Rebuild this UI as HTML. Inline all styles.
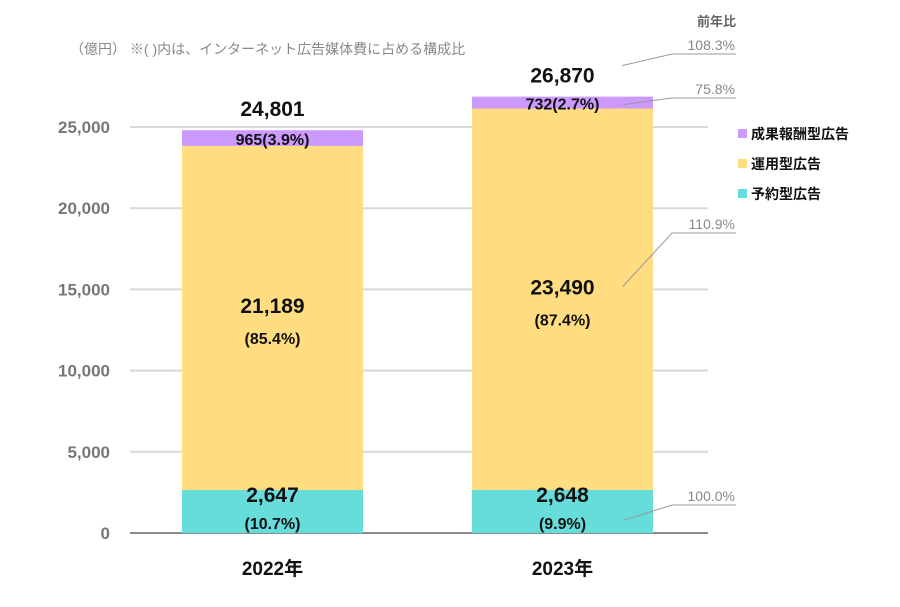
<!DOCTYPE html>
<html><head><meta charset="utf-8"><style>
body{margin:0;background:#fff;}
svg text{font-family:"Liberation Sans","Noto Sans CJK JP",sans-serif;}
</style></head><body>
<svg id="c" width="900" height="602" viewBox="0 0 900 602" xmlns="http://www.w3.org/2000/svg">
<text x="70" y="54" font-size="14" fill="#888">（億円）  ※(   )内は、インターネット広告媒体費に占める構成比</text>
<text x="736" y="26" font-size="13" fill="#666" text-anchor="end" font-weight="bold">前年比</text>
<g id="grid"></g><g id="bars"></g><g id="labels"></g><g id="yoy"></g><g id="legend"></g>
</svg>
<script>
const categories=["2022年","2023年"];
const yosoku=[2647,2648];
const unyo=[21189,23490];
const seika=[965,732];
const totals=[24801,26870];
const yosokuPct=["(10.7%)","(9.9%)"];
const unyoPct=["(85.4%)","(87.4%)"];
const seikaPct=["(3.9%)","(2.7%)"];
const yoyLabels=["108.3%","75.8%","110.9%","100.0%"];
const yTicks=[0,5000,10000,15000,20000,25000];
const NS="http://www.w3.org/2000/svg";
const y0=533,pxPer=406/25000;
const Y=v=>y0-v*pxPer;
const bandX=i=>182+i*290, bw=181;
function el(t,a,p,txt){const e=document.createElementNS(NS,t);for(const k in a)e.setAttribute(k,a[k]);if(txt!==undefined)e.textContent=txt;document.getElementById(p).appendChild(e);return e;}
yTicks.forEach(v=>{
 if(v>0){const g=el('line',{x1:130,x2:708,y1:Y(v),y2:Y(v),stroke:'#d9d9d9','stroke-width':2},'grid');
 
 }
 const t=el('text',{x:110,y:Y(v)+6,'text-anchor':'end','font-size':17,'font-weight':'bold',fill:'#777'},'grid',v.toLocaleString('en-US'));
 
 
});
const ax=el('line',{x1:130,x2:708,y1:y0,y2:y0,stroke:'#666','stroke-width':1.5},'grid');


const series=[[yosoku,'#66dddb','yosoku'],[unyo,'#ffdd80','unyo'],[seika,'#cc99ff','seika']];
categories.forEach((c,i)=>{
 let acc=0;const x=bandX(i);
 series.forEach(([arr,col,nm])=>{
  const r=el('rect',{x:x,y:Y(acc+arr[i]),width:bw,height:arr[i]*pxPer,fill:col},'bars');
  
  
  acc+=arr[i];
 });
 const cx=x+bw/2;
 const lab=(txt,yy,fs,nm)=>{const t=el('text',{x:cx,y:yy,'text-anchor':'middle','font-size':fs,'font-weight':'bold',fill:'#111'},'labels',txt);
  
  };
 lab(yosoku[i].toLocaleString('en-US'),Y(yosoku[i])+12,21,'value-yosoku');
 lab(yosokuPct[i],Y(yosoku[i])+39,16,'pct-yosoku');
 const um=Y(yosoku[i]+unyo[i]/2);
 lab(unyo[i].toLocaleString('en-US'),um-5,21,'value-unyo');
 lab(unyoPct[i],um+26,16,'pct-unyo');
 lab(seika[i]+seikaPct[i],Y(yosoku[i]+unyo[i]+seika[i]/2)+7,16,'value-seika');
 lab(totals[i].toLocaleString('en-US'),Y(totals[i])-14,21,'value-total');
 const xl=el('text',{x:cx,y:575,'text-anchor':'middle','font-size':19,'font-weight':'bold',fill:'#111'},'labels',c);
 
 
});
// yoy leaders
const lx=bandX(1)+bw;
const yoyStart=[Y(totals[1])+5-36, Y(yosoku[1]+unyo[1]+seika[1]/2)+2, Y(yosoku[1]+unyo[1]/2)-13, Y(yosoku[1]/2)+9];
const yoyEnd=[54,98,233,505];
yoyLabels.forEach((t,k)=>{
 const sx=k===0?622:lx-30;
 const p=el('polyline',{points:`${sx},${yoyStart[k]} 672,${yoyEnd[k]} 736,${yoyEnd[k]}`,fill:'none',stroke:'#999','stroke-width':1},'yoy');
 
 
 const tx=el('text',{x:735,y:yoyEnd[k]-4,'text-anchor':'end','font-size':14,fill:'#888'},'yoy',t);
 
 
});
[['成果報酬型広告','#cc99ff',137],['運用型広告','#ffdd80',167],['予約型広告','#66dddb',197]].forEach(([t,c,yy])=>{
 const r=el('rect',{x:738,y:yy-8,width:9,height:9,fill:c},'legend');
 
 
 const tx=el('text',{x:751,y:yy+2,'font-size':14,'font-weight':'bold',fill:'#111'},'legend',t);
 
 
});
</script>
</body></html>
